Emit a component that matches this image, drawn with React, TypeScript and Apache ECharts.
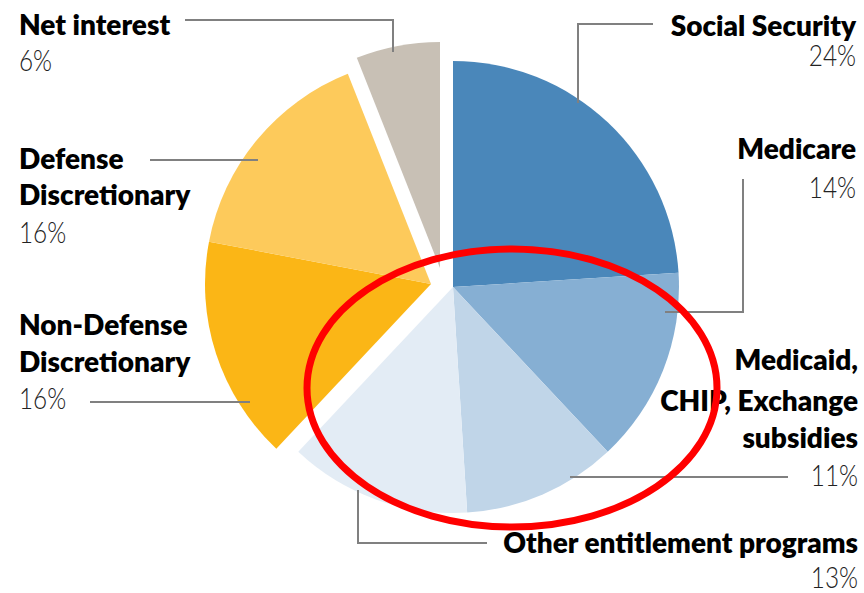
import React, { useEffect, useRef } from "react";
import * as echarts from "echarts";

// ---- data ----
const names = [
  "Social Security",
  "Medicare",
  "Medicaid, CHIP, Exchange subsidies",
  "Other entitlement programs",
  "Non-Defense Discretionary",
  "Defense Discretionary",
  "Net interest",
];
const values = [24, 14, 11, 13, 16, 16, 6];
const groups = ["ent", "ent", "ent", "ent", "disc", "disc", "int"];
const colors = ["#4A87BA", "#86AFD3", "#C0D5E8", "#E3ECF5", "#FBB616", "#FDCA5B", "#C8C0B5"];

// ---- layout (positions / wrapping only) ----
const groupCenters: Record<string, [number, number]> = {
  ent: [453, 287],
  disc: [431, 284],
  int: [440, 268],
};
const pieRadius = 226;
const nameLines = [
  ["Social Security"],
  ["Medicare"],
  ["Medicaid,", "CHIP, Exchange", "subsidies"],
  ["Other entitlement programs"],
  ["Non-Defense", "Discretionary"],
  ["Defense", "Discretionary"],
  ["Net interest"],
];
const labelAlign = ["right", "right", "right", "right", "left", "left", "left"];
const labelX = [856, 856, 858, 858, 19, 19, 19];
const nameY = [[25], [148], [359, 400, 437], [542], [324, 361], [158, 194], [24]];
const pctY = [55, 187, 475, 577, 398, 232, 60];
const leaderPoints: number[][][] = [
  [[653, 24], [578, 24], [578, 103]],
  [[743, 179], [743, 312], [665, 312]],
  [[788, 477], [570, 477]],
  [[487, 543], [358, 543], [358, 490]],
  [[90, 402], [250, 402]],
  [[150, 160], [258, 160]],
  [[185, 20], [393, 20], [393, 52]],
];

export default function App() {
  const ref = useRef<HTMLDivElement>(null);
  useEffect(() => {
    if (!ref.current) return;
    const chart = echarts.init(ref.current, null, { renderer: "svg" });

    const series = Object.keys(groupCenters).map((g) => ({
      type: "pie",
      center: groupCenters[g],
      radius: pieRadius,
      startAngle: 90,
      clockwise: true,
      silent: true,
      label: { show: false },
      labelLine: { show: false },
      emphasis: { disabled: true },
      data: values.map((v, i) => ({
        value: v,
        name: names[i],
        itemStyle: {
          color: groups[i] === g ? colors[i] : "rgba(0,0,0,0)",
          borderWidth: 0,
        },
      })),
    }));

    const graphics: any[] = [];
    leaderPoints.forEach((pts) => {
      graphics.push({
        type: "polyline",
        shape: { points: pts },
        style: { stroke: "#808080", lineWidth: 2, fill: "none" },
        z: 5,
      });
    });
    names.forEach((_, i) => {
      nameLines[i].forEach((line, j) => {
        graphics.push({
          type: "text",
          x: labelX[i],
          y: nameY[i][j],
          style: {
            text: line,
            fill: "#000000",
            fontFamily: "Lato",
            fontWeight: 800,
            fontSize: 28,
            align: labelAlign[i],
            verticalAlign: "middle",
          },
          z: 6,
        });
      });
      graphics.push({
        type: "text",
        x: labelX[i],
        y: pctY[i],
        scaleX: 0.84,
        style: {
          text: values[i] + "%",
          fill: "#222222",
          fontFamily: "Lato",
          fontWeight: 300,
          fontSize: 29,
          align: labelAlign[i],
          verticalAlign: "middle",
        },
        z: 6,
      });
    });
    graphics.push({
      type: "ellipse",
      shape: { cx: 512, cy: 388, rx: 205, ry: 139 },
      style: { fill: "none", stroke: "#FF0000", lineWidth: 7 },
      z: 10,
    });

    chart.setOption({
      animation: false,
      backgroundColor: "#ffffff",
      series,
      graphic: graphics,
    });
    return () => chart.dispose();
  }, []);
  return (
    <div
      ref={ref}
      style={{ position: "absolute", left: 0, top: 0, width: 864, height: 593 }}
    />
  );
}
